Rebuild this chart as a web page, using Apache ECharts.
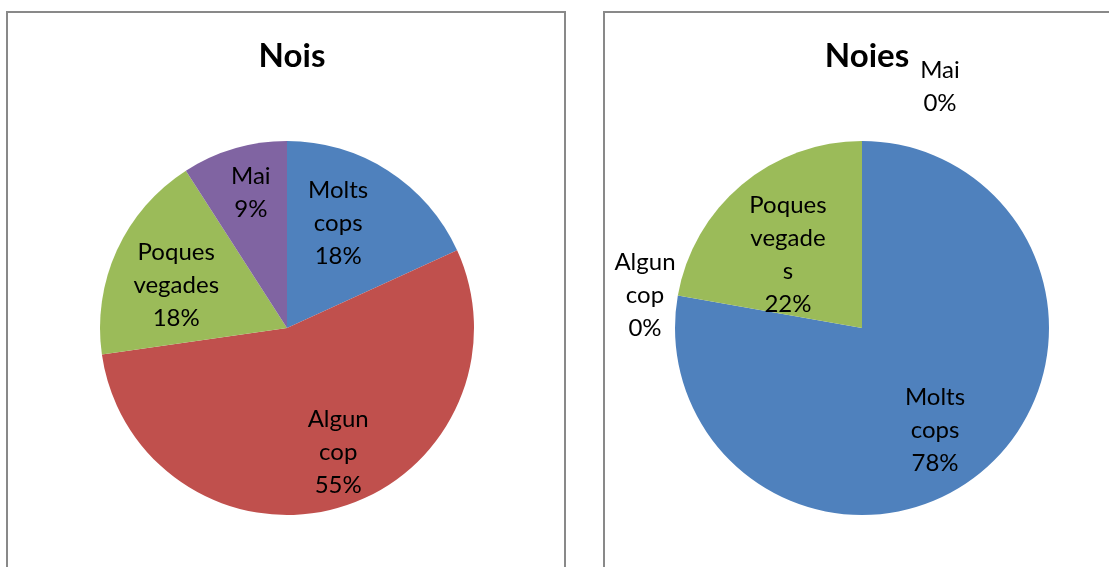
<!DOCTYPE html>
<html>
<head>
<meta charset="utf-8">
<script src="https://cdn.jsdelivr.net/npm/echarts@6/dist/echarts.min.js"></script>
<style>
  html, body { margin: 0; padding: 0; background: #ffffff; }
  #chart { width: 1109px; height: 567px; }
</style>
</head>
<body>
<div id="chart"></div>
<script>
// Survey answers, counted separately for boys and girls
const categories = ['Molts cops', 'Algun cop', 'Poques vegades', 'Mai'];
const boysCounts = [2, 6, 2, 1];
const girlsCounts = [7, 0, 2, 0];
const chartTitles = ['Nois', 'Noies'];
const sliceColors = ['#4F81BD', '#C0504D', '#9BBB59', '#8064A2'];

// Label nudges away from the default inside anchor (layout only)
const boysLabelOffsets = [[-1, -24], [24, 32], [-23, -3], [-9, -43]];
const girlsLabelOffsets = [[11, 28], [-122, -16], [-12, 1], [78, -145]];
// Longest line, in characters, before a label name wraps
const boysWrapChars = 7;
const girlsWrapChars = 6;

const FONT = 'Lato, "Open Sans", sans-serif';

// Word wrap by character count; a word longer than a line is split
function wrapName(name, maxChars) {
  const lines = [];
  let line = '';
  name.split(' ').forEach(word => {
    while (word.length > maxChars) {
      if (line) { lines.push(line); line = ''; }
      lines.push(word.slice(0, maxChars));
      word = word.slice(maxChars);
    }
    if (!word) return;
    if (!line) line = word;
    else if ((line + ' ' + word).length <= maxChars) line += ' ' + word;
    else { lines.push(line); line = word; }
  });
  if (line) lines.push(line);
  return lines.join('\n');
}

function buildData(counts, offsets) {
  return categories.map((name, i) => ({
    name: name,
    value: counts[i],
    itemStyle: { color: sliceColors[i] },
    label: { offset: offsets[i] }
  }));
}

function pieSeries(counts, offsets, wrapChars, center) {
  return {
    type: 'pie',
    center: center,
    radius: 187,
    startAngle: 90,
    clockwise: true,
    percentPrecision: 0,
    avoidLabelOverlap: false,
    silent: true,
    itemStyle: { borderWidth: 0 },
    label: {
      show: true,
      position: 'inside',
      formatter: p => wrapName(p.name, wrapChars) + '\n' + p.percent + '%',
      color: '#000000',
      fontFamily: FONT,
      fontSize: 24,
      lineHeight: 33,
      align: 'center'
    },
    labelLine: { show: false },
    emphasis: { disabled: true },
    data: buildData(counts, offsets)
  };
}

const chart = echarts.init(document.getElementById('chart'), null, { renderer: 'canvas' });

chart.setOption({
  animation: false,
  backgroundColor: '#ffffff',
  title: [
    { text: chartTitles[0], left: 287, top: 35, textAlign: 'center',
      textStyle: { fontFamily: FONT, fontWeight: 'bold', fontSize: 33, color: '#000000' } },
    { text: chartTitles[1], left: 862, top: 35, textAlign: 'center',
      textStyle: { fontFamily: FONT, fontWeight: 'bold', fontSize: 33, color: '#000000' } }
  ],
  graphic: [
    { type: 'rect', silent: true, shape: { x: 7, y: 12, width: 558, height: 600 },
      style: { fill: 'none', stroke: '#898989', lineWidth: 2 } },
    { type: 'rect', silent: true, shape: { x: 604, y: 12, width: 560, height: 600 },
      style: { fill: 'none', stroke: '#898989', lineWidth: 2 } }
  ],
  series: [
    pieSeries(boysCounts, boysLabelOffsets, boysWrapChars, [287, 328]),
    pieSeries(girlsCounts, girlsLabelOffsets, girlsWrapChars, [862, 328])
  ]
});
</script>
</body>
</html>
